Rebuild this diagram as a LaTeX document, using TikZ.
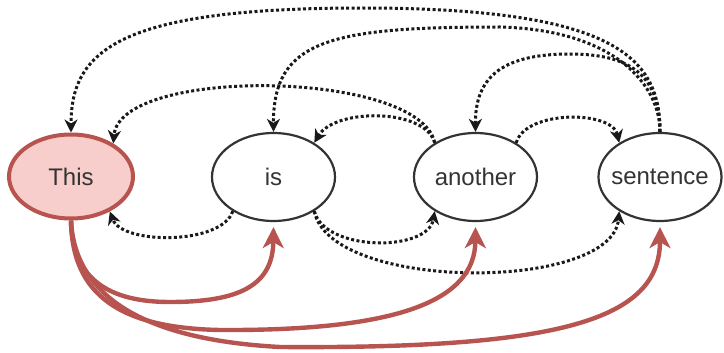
\documentclass[tikz,border=0pt]{standalone}
\usepackage{fontspec}
\setmainfont{Liberation Sans}
\usetikzlibrary{shapes.geometric,arrows.meta}
\definecolor{redline}{HTML}{B85450}
\definecolor{redfill}{HTML}{F8CECC}
\definecolor{ink}{HTML}{333333}
\tikzset{
  word/.style={ellipse, draw=ink, line width=2.2pt, minimum width=123pt,
    minimum height=88pt, inner sep=0pt, text=ink,
    font=\fontsize{24}{28}\selectfont},
  firstword/.style={word, draw=redline, fill=redfill, line width=4pt,
    minimum width=124pt, minimum height=84pt},
  dotlink/.style={draw=black!90, line width=3pt,
    dash pattern=on 3pt off 2.4pt,
    -{Stealth[length=13pt,width=13pt,inset=4pt]}},
  redlink/.style={draw=redline, line width=4.4pt,
    -{Stealth[length=21pt,width=21pt,inset=6pt]}, shorten >=5pt},
}
\begin{document}
\begin{tikzpicture}[x=1pt,y=-1pt]
\useasboundingbox (0,0) rectangle (724,353);

% words
\node[firstword] (t) at (71,176.5) {\makebox[0pt]{This}};
\node[word] (i) at (273.5,177) {\makebox[0pt]{is}};
\node[word] (a) at (475.5,177) {\makebox[0pt]{another}};
\node[word] (s) at (660,177) {\makebox[0pt]{sentence}};

% dotted links above the words
\draw[dotlink] (s.north) .. controls (660,60) and (620,8) .. (362,8)
                .. controls (120,8) and (71,50) .. (t.north);
\draw[dotlink] (s.north) .. controls (660,85) and (615,30) .. (500,27)
                .. controls (330,27) and (273,40) .. (i.north);
\draw[dotlink] (s.north) .. controls (660,75) and (630,54) .. (570,54)
                .. controls (505,54) and (475,75) .. (a.north);
\draw[dotlink] (a.140) .. controls (420,70) and (120,66) .. (t.38);
\draw[dotlink] (a.140) .. controls (425,108) and (335,108) .. (i.40);
\draw[dotlink] (a.40) .. controls (525,110) and (612,110) .. (s.140);

% dotted links below the words
\draw[dotlink] (i.220) .. controls (222,245) and (122,245) .. (t.-42);
\draw[dotlink] (i.-40) .. controls (325,252) and (428,252) .. (a.220);
\draw[dotlink] (i.-40) .. controls (330,292) and (612,292) .. (s.220);

% red links from the first word
\draw[redlink] (t.south) .. controls (72,280) and (110,302) .. (170,302)
                .. controls (240,302) and (273,285) .. (i.south);
\draw[redlink] (t.south) .. controls (72,295) and (120,328) .. (220,330)
                .. controls (400,331) and (475,300) .. (a.south);
\draw[redlink] (t.south) .. controls (75,300) and (150,340) .. (280,347)
                .. controls (560,349) and (660,320) .. (s.south);
\end{tikzpicture}
\end{document}
